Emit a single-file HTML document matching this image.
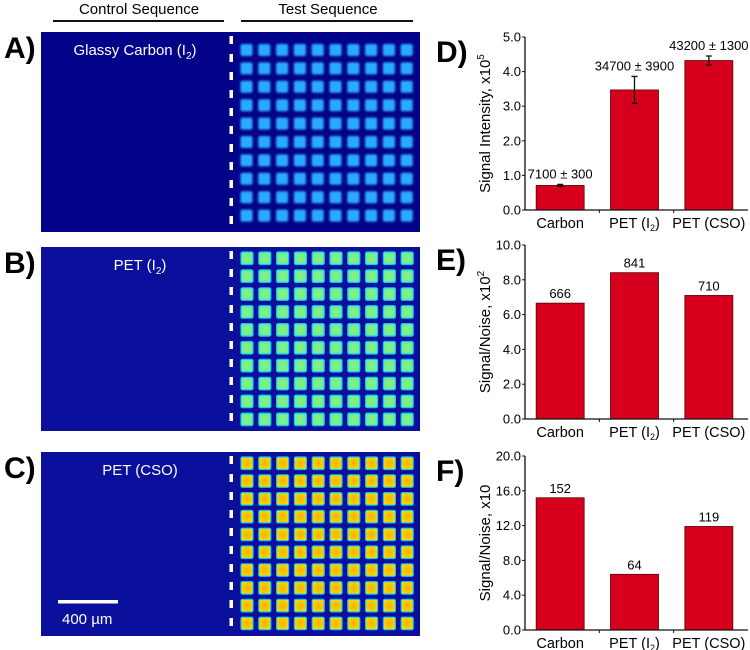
<!DOCTYPE html>
<html><head><meta charset="utf-8"><style>
body{margin:0;background:#fff;}
svg{display:block;font-family:"Liberation Sans",Arial,sans-serif;}
</style></head><body>
<svg id="fig" width="750" height="650" viewBox="0 0 750 650">
<defs>
<filter id="blur1" x="-30%" y="-30%" width="160%" height="160%"><feGaussianBlur stdDeviation="1.1"/></filter>
<radialGradient id="cso" cx="50%" cy="50%" r="60%"><stop offset="0" stop-color="#f5b000"/><stop offset="0.7" stop-color="#f7d000"/><stop offset="1" stop-color="#e8f000"/></radialGradient>
<radialGradient id="pet" cx="50%" cy="50%" r="60%"><stop offset="0" stop-color="#8cf07a"/><stop offset="1" stop-color="#66eea0"/></radialGradient>
</defs>
<g>
<text x="139" y="14" font-size="15" text-anchor="middle">Control Sequence</text>
<line x1="53" y1="21" x2="224" y2="21" stroke="#111" stroke-width="2"/>
<text x="328" y="14" font-size="15" text-anchor="middle">Test Sequence</text>
<line x1="241" y1="21" x2="413" y2="21" stroke="#111" stroke-width="2"/>
</g>
<g id="images"></g>
<g id="charts"></g>
</svg>
<script>
const NS='http://www.w3.org/2000/svg';
function mk(parent,tag,attrs,text){const e=document.createElementNS(NS,tag);for(const k in attrs)e.setAttribute(k,attrs[k]);if(text!==undefined)e.textContent=text;parent.appendChild(e);return e;}

// ---- image panels ----
const imgs=document.getElementById('images');
const panels=[
 {id:'a',letter:'A)',y:32,h:200,bg:'#03038a',title:'Glassy Carbon (I',sub:'2',tx:135,row0:44.5,pitch:18.4,fill:'#2aaaff',edge:'#0b6af0',glow:true},
 {id:'b',letter:'B)',y:247,h:184,bg:'#0a109c',title:'PET (I',sub:'2',tx:140,row0:252,pitch:17.9,fill:'url(#pet)',edge:'#10c8ff',glow:false},
 {id:'c',letter:'C)',y:452,h:184,bg:'#0a109c',title:'PET (CSO)',sub:'',tx:140,row0:457,pitch:17.8,fill:'url(#cso)',edge:'#10c8ff',glow:false}
];
panels.forEach(p=>{
 const g=mk(imgs,'g',{});
 
 
 const lt=mk(g,'text',{x:4,y:p.y+26,'font-size':30,'font-weight':'bold'},p.letter);
 
 
 const bg=mk(g,'rect',{x:41,y:p.y,width:379,height:p.h,fill:p.bg});
 
 
 const t=mk(g,'text',{x:p.tx,y:p.y+23,'font-size':15,fill:'#fff','text-anchor':'middle'});
 
 
 t.appendChild(document.createTextNode(p.title));
 if(p.sub){mk(t,'tspan',{'font-size':10,dy:4},p.sub);mk(t,'tspan',{dy:-4},')');}
 for(let y=p.y+4;y<p.y+p.h;y+=18){
  const d=mk(g,'rect',{x:229.5,y:y,width:3.5,height:8,fill:'#fff'});
  
  
 }
 for(let r=0;r<10;r++)for(let c=0;c<10;c++){
  const x=241+c*17.8, y=p.row0+r*p.pitch;
  if(p.glow){
   const s=mk(g,'rect',{x:x-0.5,y:y-0.5,width:12,height:12,fill:p.fill,rx:2,filter:'url(#blur1)'});
   
   
  } else {
   const s=mk(g,'rect',{x:x,y:y,width:12,height:12.5,fill:p.fill,stroke:p.edge,'stroke-width':1.2,rx:1.5});
   
   
  }
 }
});
const sb=mk(imgs,'rect',{x:58,y:600,width:60,height:3.5,fill:'#fff'});


const sbt=mk(imgs,'text',{x:62,y:624,'font-size':15,fill:'#fff'},'400 µm');



// ---- bar charts data ----
const categories=['Carbon','PET (I2)','PET (CSO)'];
const dValues=[0.71,3.47,4.32];
const dErrors=[0.03,0.39,0.13];
const dLabels=['7100 ± 300','34700 ± 3900','43200 ± 1300'];
const dTicks=[0,1,2,3,4,5];
const eValues=[6.66,8.41,7.10];
const eLabels=['666','841','710'];
const eTicks=[0,2,4,6,8,10];
const fValues=[15.2,6.4,11.9];
const fLabels=['152','64','119'];
const fTicks=[0,4,8,12,16,20];

const charts=[
 {id:'d',letter:'D)',top:37,bottom:210,max:5,vals:dValues,errs:dErrors,labels:dLabels,ticks:dTicks,ylab:'Signal Intensity, x10',sup:'5'},
 {id:'e',letter:'E)',top:245,bottom:419,max:10,vals:eValues,errs:null,labels:eLabels,ticks:eTicks,ylab:'Signal/Noise, x10',sup:'2'},
 {id:'f',letter:'F)',top:456,bottom:630,max:20,vals:fValues,errs:null,labels:fLabels,ticks:fTicks,ylab:'Signal/Noise, x10',sup:''}
];
const ch=document.getElementById('charts');
const x0=525,x1=748;
charts.forEach(c=>{
 const g=mk(ch,'g',{});
 
 
 const yS=v=>c.bottom-(v/c.max)*(c.bottom-c.top);
 const band=(x1-x0)/categories.length;
 const xC=i=>x0+band*(i+0.5)-2;
 const L=mk(g,'text',{x:436,y:c.top+25,'font-size':30,'font-weight':'bold'},c.letter);
 
 
 const yl=mk(g,'text',{transform:`translate(490,${(c.top+c.bottom)/2}) rotate(-90)`,'font-size':15,'text-anchor':'middle'});
 
 
 yl.appendChild(document.createTextNode(c.ylab));
 if(c.sup)mk(yl,'tspan',{'font-size':10,dy:-6},c.sup);
 c.vals.forEach((v,i)=>{
  const b=mk(g,'rect',{x:xC(i)-24,y:yS(v),width:48,height:c.bottom-yS(v),fill:'#d6001c',stroke:'#5a0008','stroke-width':0.8});
  
  
  let ty=yS(v)-5;
  if(c.errs){
   const e=c.errs[i];
   const eg=mk(g,'path',{d:`M${xC(i)},${yS(v+e)}V${yS(v-e)}M${xC(i)-3},${yS(v+e)}h6M${xC(i)-3},${yS(v-e)}h6`,stroke:'#111','stroke-width':1.3,fill:'none'});
   
   
   ty=yS(v+e)-6;
  }
  const vl=mk(g,'text',{x:xC(i),y:ty,'font-size':13,'text-anchor':'middle'},c.labels[i]);
  
  
  const xl=mk(g,'text',{x:xC(i),y:c.bottom+18,'font-size':14.5,'text-anchor':'middle'});
  
  
  const nm=categories[i];
  if(nm.indexOf('I2')>=0){xl.appendChild(document.createTextNode('PET (I'));mk(xl,'tspan',{'font-size':9,dy:3},'2');mk(xl,'tspan',{dy:-3},')');}
  else xl.textContent=nm;
 });
 const ax=mk(g,'path',{d:`M${x0},${c.top}V${c.bottom}H${x1}`,stroke:'#111','stroke-width':1.3,fill:'none'});
 
 
 for(let k=1;k<categories.length;k++){
  const tx=x0+band*k;
  mk(g,'line',{x1:tx,y1:c.bottom,x2:tx,y2:c.bottom+3,stroke:'#111','stroke-width':1});
 }
 c.ticks.forEach(t=>{
  mk(g,'line',{x1:x0-3,y1:yS(t),x2:x0,y2:yS(t),stroke:'#111','stroke-width':1});
  const tl=mk(g,'text',{x:x0-4,y:yS(t)+4.5,'font-size':13,'text-anchor':'end'},t.toFixed(1));
  
  
 });
});
</script>
</body></html>
